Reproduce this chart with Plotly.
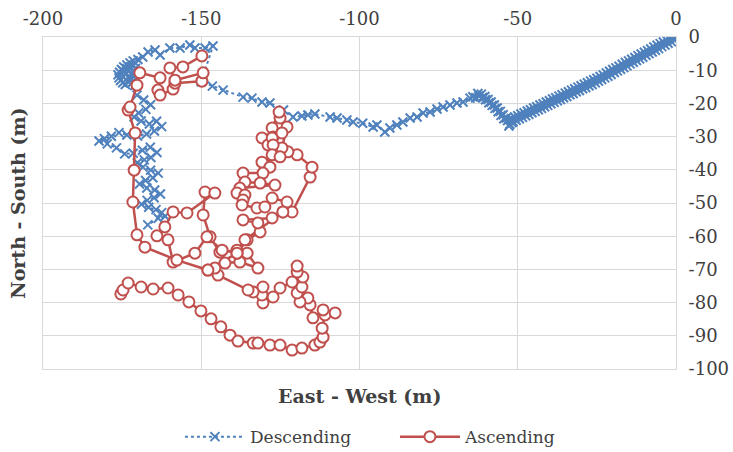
import plotly.graph_objects as go

# ---------------- Data (East-West, North-South in metres) ----------------
desc_x = [
    0, -0.5, -1, -1.5, -2, -2.5, -3, -3.5, -4, -4.5, -5, -5.5, -6, -6.5, -7, -7.5, -8, -8.5,
    -9, -9.5, -10, -10.5, -11, -11.5, -12, -12.5, -13, -13.5, -14, -14.5, -15, -15.5, -16,
    -16.5, -17, -17.5, -18, -18.5, -19, -19.5, -20, -20.5, -21, -21.5, -22, -22.5, -23,
    -23.5, -24, -24.5, -25, -25.5, -26, -26.5, -27, -27.5, -28, -28.5, -29, -29.5, -30,
    -30.5, -31, -31.5, -32, -32.5, -33, -33.5, -34, -34.5, -35, -35.5, -36, -36.5, -37,
    -37.5, -38, -38.5, -39, -39.5, -40, -40.5, -41, -41.5, -42, -42.5, -43, -43.5, -44,
    -44.5, -45, -45.5, -46, -46.5, -47, -47.5, -48, -48.5, -49, -49.5, -50, -50.5, -51,
    -51.5, -52,
    -52.5, -51.8, -52.8, -53.2, -53.6, -54.4, -54.6, -55.3, -55.5, -56.2, -56.5, -57.2,
    -57.4, -58.1, -58.4, -59.1, -59.4, -60.2, -60.4, -61.2, -61.5, -62.3, -62.6, -63.3, -64.2,
    -65.1, -67.3, -69.2, -71.4, -73.6, -75.5, -77.7, -79.9, -81.8, -84.0, -86.3, -88.2,
    -90.4, -92.0, -94.5, -95.7, -99.0, -102.0, -104.0, -107.1, -109.3, -114.1, -116.3,
    -118.2, -121.0, -124.0, -128.3, -130.8, -134.0, -136.8, -143.1, -146.5, -150.0,
    -146.3, -148.8, -152.0, -153.6, -156.7, -159.9, -163.0, -164.6, -166.8,
    -168.5, -170.0, -171.5, -172.5, -173.5, -174.5, -175.2, -175.8, -176.3, -176.0, -175.5,
    -174.8, -174.0, -173.0, -172.2, -172.8, -173.8, -174.6, -173.5, -172.4, -171.4, -170.8,
    -171.2, -172.0, -172.5, -171.8, -171.0,
    -170.3, -168.2, -166.0, -167.5, -169.8, -171.2, -169.0, -166.4, -164.1, -162.5, -164.8,
    -167.3, -170.1, -173.5, -176.0, -178.4, -180.6, -182.3, -179.7, -176.8, -174.2, -171.5,
    -168.6, -166.1, -164.0, -165.9, -168.0, -170.2, -168.4, -166.0, -163.6, -165.3, -167.6,
    -169.5, -167.2, -164.7, -162.9, -164.9, -167.1, -168.9, -166.6, -164.3, -162.5, -161.4,
    -163.6, -166.9,
]
desc_y = [
    -0.1, -0.9, -0.1, -1.4, -0.4, -1.9, -1.0, -2.4, -1.5, -2.9, -2.0, -3.5, -2.5, -4.0, -3.0,
    -4.5, -3.6, -5.0, -4.1, -5.5, -4.6, -6.1, -5.1, -6.6, -5.6, -7.1, -6.2, -7.6, -6.7, -8.1,
    -7.2, -8.7, -7.7, -9.2, -8.2, -9.7, -8.8, -10.2, -9.3, -10.7, -9.8, -11.3, -10.3, -11.8,
    -10.8, -12.3, -11.4, -12.8, -11.9, -13.3, -12.4, -13.8, -12.9, -14.3, -13.3, -14.7,
    -13.8, -15.2, -14.2, -15.6, -14.7, -16.1, -15.1, -16.5, -15.6, -17.0, -16.0, -17.4,
    -16.5, -17.9, -16.9, -18.3, -17.4, -18.8, -17.8, -19.2, -18.3, -19.7, -18.7, -20.1,
    -19.2, -20.6, -19.6, -21.0, -20.1, -21.5, -20.5, -21.9, -21.0, -22.4, -21.4, -22.8,
    -21.9, -23.3, -22.3, -23.7, -22.8, -24.2, -23.2, -24.6, -23.7, -25.1, -24.1, -25.5,
    -24.6,
    -26.3, -25.8, -26.8, -25.2, -24.4, -24.6, -23.4, -23.6, -22.4, -22.5, -21.4, -21.5,
    -20.5, -20.6, -19.6, -19.8, -18.8, -18.9, -17.9, -18.2, -17.2, -17.8, -17.0, -18.3, -18.0,
    -18.4, -19.6, -19.9, -20.5, -21.1, -21.7, -22.6, -22.9, -24.1, -24.4, -25.6, -26.5,
    -27.4, -28.6, -26.5, -27.1, -26.0, -25.6, -25.0, -24.4, -24.1, -23.2, -23.5,
    -23.8, -24.1, -22.0, -19.9, -19.6, -18.4, -18.1, -16.0, -14.8, -13.5,
    -2.7, -3.3, -3.3, -2.4, -3.3, -3.3, -5.4, -3.9, -4.5,
    -6.0, -6.8, -7.2, -7.8, -8.4, -9.0, -9.8, -10.6, -11.4, -12.3, -13.1,
    -13.8, -14.3, -13.6, -12.8, -11.8, -11.0, -10.3, -9.5, -9.0, -8.6, -9.5,
    -10.6, -11.4, -12.6, -13.7, -14.6,
    -17.5, -19.0, -20.4, -21.8, -22.9, -24.1, -25.3, -26.2, -25.4, -27.0, -28.3,
    -29.2, -29.8, -29.5, -28.8, -29.9, -30.6, -31.3, -32.2, -33.4, -35.2, -35.0,
    -34.1, -33.2, -34.8, -36.3, -37.0, -37.9, -39.2, -40.1, -41.0, -42.4, -43.2,
    -44.3, -45.5, -46.1, -47.3, -48.4, -49.2, -50.4, -51.3, -52.0, -52.9, -54.0,
    -54.6, -56.6,
]

asc_x = [
    -175.4, -174.7, -173.1, -169.0, -165.2, -160.5, -157.3, -153.9, -150.1, -146.9, -143.8,
    -140.9, -138.4, -133.6, -132.1, -128.3, -125.1, -121.3, -118.2, -114.1, -112.5, -111.5,
    -111.8, -110.9, -107.7, -111.5, -114.7, -115.6, -116.3, -118.8, -119.7, -118.2, -117.9,
    -119.7, -119.7, -121.3, -125.1, -127.3, -130.5, -130.8, -130.5, -133.6, -135.2,
    -144.7, -147.9, -145.7, -142.5, -137.8, -132.1, -135.5, -138.7, -135.5, -131.4, -132.1,
    -136.8, -127.6, -124.2, -121.3,
    -115.6, -115.0, -119.7, -122.6, -124.5, -122.9, -125.1, -125.4, -127.6, -127.3, -130.8,
    -128.9, -127.6, -124.5, -127.3, -127.6, -125.1, -130.8, -128.3, -130.5, -136.8, -136.2,
    -131.4, -126.7, -137.8, -138.7, -136.2, -136.8, -137.1, -132.4, -129.9, -127.6, -122.9,
    -124.2, -136.2, -138.7, -144.1, -147.2, -149.4, -148.8, -145.7, -154.5, -158.9, -161.5,
    -164.0, -160.5, -158.9, -152.0, -148.2, -143.4, -138.7, -147.9, -157.7, -167.8, -170.3,
    -171.6, -171.2, -170.9, -173.1, -172.5, -170.3, -169.4, -163.0, -163.7, -163.0, -158.9,
    -158.3, -149.8, -149.4, -158.3, -159.9, -155.8, -149.8,
]
asc_y = [
    -77.4, -76.2, -74.1, -75.3, -75.9, -75.6, -77.7, -79.8, -82.5, -84.9, -87.3,
    -89.8, -91.6, -92.2, -92.2, -92.8, -92.8, -94.3, -93.7, -92.8, -91.9, -90.4,
    -87.7, -83.7, -83.1, -82.2, -84.6, -80.7, -78.6, -79.8, -77.1, -75.3, -72.3,
    -70.8, -69.0, -73.8, -75.6, -78.3, -80.1, -77.7, -75.3, -76.8, -76.2,
    -71.7, -70.2, -69.6, -68.1, -67.8, -69.6, -65.1, -65.1, -61.1, -58.7, -56.0,
    -55.1, -54.5, -52.7, -52.7,
    -42.2, -39.2, -35.5, -34.6, -33.4, -27.1, -24.4, -22.6, -27.4, -30.1, -30.4,
    -32.5, -30.4, -28.9, -32.5, -35.5, -36.1, -37.7, -39.2, -41.0, -41.0, -43.7,
    -44.0, -44.6, -45.5, -47.0, -47.6, -49.1, -50.6, -51.5, -51.2, -48.5, -49.7,
    -52.7, -61.1, -64.2, -64.8, -60.2, -53.6, -46.7, -47.0, -53.0, -52.7, -57.2,
    -59.9, -61.1, -67.8, -65.1, -60.2, -64.2, -65.1, -70.2, -67.2, -63.3, -59.6,
    -49.7, -40.1, -28.9, -22.0, -21.1, -14.5, -10.8, -12.3, -16.0, -17.5, -15.7,
    -13.9, -13.3, -10.8, -13.0, -9.3, -9.0, -5.7,
]

x_ticks = [-200, -150, -100, -50, 0]
x_tick_text = ["-200", "-150", "-100", "-50", "0"]
y_ticks = [0, -10, -20, -30, -40, -50, -60, -70, -80, -90, -100]
y_tick_text = ["0", "-10", "-20", "-30", "-40", "-50", "-60", "-70", "-80", "-90", "-100"]

BLUE = "#4F81BD"
RED = "#C0504D"
GRID = "#D9D9D9"
FONT = "DejaVu Serif"
TXT = "#404040"

fig = go.Figure()
fig.add_trace(go.Scatter(
    x=desc_x, y=desc_y, mode="lines+markers", name="Descending",
    line=dict(color=BLUE, width=2, dash="dot"),
    marker=dict(symbol="x-thin", size=9, color=BLUE, line=dict(color=BLUE, width=2)),
))
fig.add_trace(go.Scatter(
    x=asc_x, y=asc_y, mode="lines+markers", name="Ascending",
    line=dict(color=RED, width=2.5),
    marker=dict(symbol="circle", size=11, color="white", line=dict(color=RED, width=2)),
))

fig.update_layout(
    width=733, height=452,
    margin=dict(l=43, r=57, t=37, b=83, autoexpand=False),
    paper_bgcolor="white", plot_bgcolor="white",
    font=dict(family=FONT, size=17, color=TXT),
    showlegend=True,
    legend=dict(orientation="h", x=0.556, xanchor="center",
                yref="container", y=0.033, yanchor="middle",
                font=dict(family=FONT, size=17, color=TXT), itemwidth=60,
                entrywidth=140, bgcolor="rgba(0,0,0,0)"),
    xaxis=dict(range=[-200, 0], side="top", tickvals=x_ticks, ticktext=x_tick_text,
               showgrid=True, gridcolor=GRID, gridwidth=1, zeroline=False,
               showline=True, mirror=True, linecolor=GRID, linewidth=1,
               ticks="", ticklabelstandoff=4, automargin=False,
               tickfont=dict(family=FONT, size=18, color=TXT)),
    yaxis=dict(range=[-100, 0], side="right", tickvals=y_ticks, ticktext=y_tick_text,
               showgrid=True, gridcolor=GRID, gridwidth=1, zeroline=False,
               showline=True, mirror=True, linecolor=GRID, linewidth=1,
               ticks="", ticklabelstandoff=8, automargin=False,
               tickfont=dict(family=FONT, size=18, color=TXT)),
    annotations=[
        dict(text="<b>East - West (m)</b>", x=0.5, y=-0.08, xref="paper", yref="paper",
             xanchor="center", yanchor="middle", showarrow=False,
             font=dict(family=FONT, size=19, color=TXT)),
        dict(text="<b>North - South (m)</b>", x=-0.04, y=0.5, xref="paper", yref="paper",
             xanchor="center", yanchor="middle", showarrow=False, textangle=-90,
             font=dict(family=FONT, size=19, color=TXT)),
    ],
)

fig.write_html("out.html")
